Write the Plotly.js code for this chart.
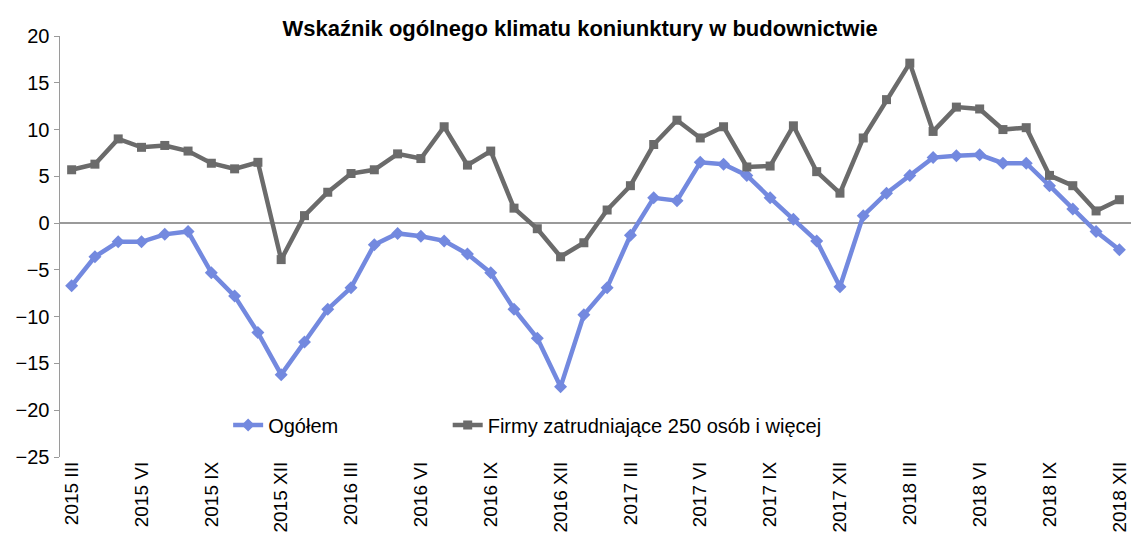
<!DOCTYPE html>
<html>
<head>
<meta charset="utf-8">
<script src="https://cdn.plot.ly/plotly-3.0.1.min.js"></script>
<style>
html,body{margin:0;padding:0;background:#fff;}
#chart{width:1131px;height:542px;}
</style>
</head>
<body>
<div id="chart"></div>
<script>
const months = [
  "2015 III","2015 IV","2015 V","2015 VI","2015 VII","2015 VIII","2015 IX","2015 X","2015 XI","2015 XII",
  "2016 I","2016 II","2016 III","2016 IV","2016 V","2016 VI","2016 VII","2016 VIII","2016 IX","2016 X","2016 XI","2016 XII",
  "2017 I","2017 II","2017 III","2017 IV","2017 V","2017 VI","2017 VII","2017 VIII","2017 IX","2017 X","2017 XI","2017 XII",
  "2018 I","2018 II","2018 III","2018 IV","2018 V","2018 VI","2018 VII","2018 VIII","2018 IX","2018 X","2018 XI","2018 XII"
];
const tickLabels = ["2015 III","2015 VI","2015 IX","2015 XII","2016 III","2016 VI","2016 IX","2016 XII",
  "2017 III","2017 VI","2017 IX","2017 XII","2018 III","2018 VI","2018 IX","2018 XII"];
const ogolem = [
  -6.7,-3.6,-2.0,-2.0,-1.2,-0.9,-5.3,-7.8,-11.7,-16.2,
  -12.7,-9.2,-6.9,-2.3,-1.1,-1.4,-1.9,-3.3,-5.3,-9.2,-12.3,-17.5,
  -9.8,-6.9,-1.3,2.7,2.4,6.5,6.3,5.1,2.7,0.4,-1.9,-6.8,
  0.8,3.2,5.1,7.0,7.2,7.3,6.4,6.4,4.0,1.5,-0.9,-2.85
];
const firmy250 = [
  5.7,6.3,9.0,8.1,8.3,7.7,6.4,5.8,6.5,-3.9,
  0.8,3.3,5.3,5.7,7.4,6.9,10.3,6.2,7.7,1.6,-0.6,-3.6,
  -2.1,1.4,4.0,8.4,11.0,9.1,10.3,6.0,6.1,10.4,5.5,3.2,
  9.1,13.2,17.1,9.8,12.4,12.2,10.0,10.2,5.1,4.0,1.3,2.5
];
const seriesNames = ["Ogółem","Firmy zatrudniające 250 osób i więcej"];
const FONT = '"Liberation Sans",Arial,sans-serif';

const traces = [
  {x: months, y: ogolem, name: seriesNames[0], type: 'scatter', mode: 'lines+markers', legend: 'legend',
   line: {color: '#7389DF', width: 4.5}, marker: {symbol: 'diamond', size: 10, color: '#7389DF'}},
  {x: months, y: firmy250, name: seriesNames[1], type: 'scatter', mode: 'lines+markers', legend: 'legend2',
   line: {color: '#6B6B6B', width: 4.5}, marker: {symbol: 'square', size: 9, color: '#6B6B6B'}}
];

const legendCommon = {orientation: 'h', xanchor: 'left', yanchor: 'middle', bgcolor: 'rgba(0,0,0,0)',
  font: {family: FONT, size: 20, color: '#000'}};

const layout = {
  width: 1131, height: 542,
  margin: {l: 60, r: 0, t: 36, b: 85},
  paper_bgcolor: '#fff', plot_bgcolor: '#fff',
  font: {family: FONT, size: 18, color: '#000'},
  title: {text: '<b>Wskaźnik ogólnego klimatu koniunktury w budownictwie</b>',
          font: {family: FONT, size: 22, color: '#000'},
          x: 0.513, xanchor: 'center', y: 0.948, yanchor: 'middle'},
  xaxis: {type: 'category', range: [-0.5, 45.5], tickmode: 'array', tickvals: tickLabels, ticktext: tickLabels,
          tickangle: -90, showgrid: false, showline: false, zeroline: false, ticks: '',
          tickfont: {family: FONT, size: 19, color: '#000'}, fixedrange: true},
  yaxis: {range: [-25, 20], dtick: 5, showgrid: false, zeroline: true, zerolinecolor: '#9A9A9A', zerolinewidth: 1.5,
          showline: true, linecolor: '#9A9A9A', linewidth: 1.5, ticks: 'outside', ticklen: 5, tickcolor: '#9A9A9A',
          tickfont: {family: FONT, size: 20, color: '#000'}, fixedrange: true},
  showlegend: true,
  legend: Object.assign({}, legendCommon, {x: 0.157, y: 0.076}),
  legend2: Object.assign({}, legendCommon, {x: 0.362, y: 0.076})
};

Plotly.newPlot('chart', traces, layout, {displayModeBar: false, staticPlot: true});
</script>
</body>
</html>
